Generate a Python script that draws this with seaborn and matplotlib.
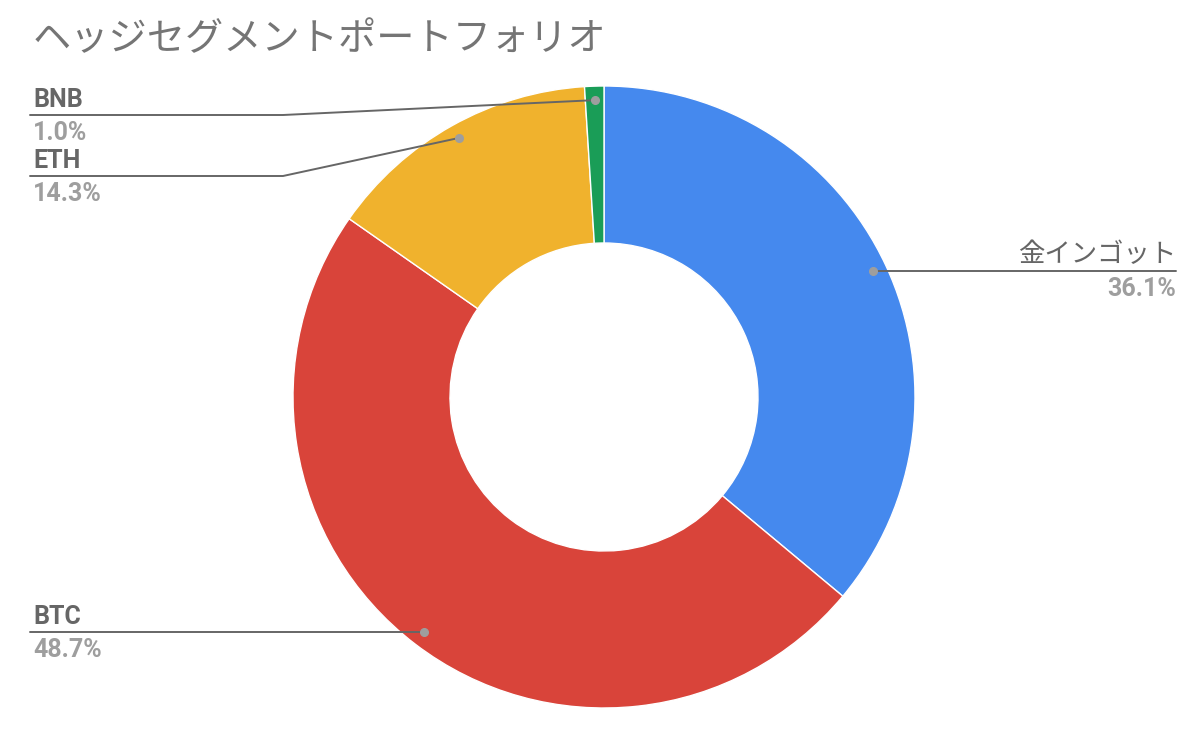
import numpy as np
import seaborn as sns
import matplotlib.pyplot as plt

labels = ["金インゴット", "BTC", "ETH", "BNB"]
values = [36.1, 48.7, 14.3, 1.0]
colors = ["#4589EE", "#D9443A", "#F0B22D", "#1A9D57"]

sns.set_theme(style="white")
plt.rcParams['font.family'] = ['Noto Sans CJK JP', 'DejaVu Sans']

W, H = 1200, 734
fig = plt.figure(figsize=(12, 7.34), dpi=100)
ax = fig.add_axes([0, 0, 1, 1])

cx, cy, R = 604, H - 397, 311
wedges, _ = ax.pie(values, colors=colors, startangle=90, counterclock=False,
                   center=(cx, cy), radius=R, frame=True,
                   wedgeprops=dict(width=R - 154, edgecolor='white', linewidth=1))
ax.set_xlim(0, W)
ax.set_ylim(0, H)
ax.set_aspect('equal')
ax.axis('off')

ax.text(33, H - 40, "ヘッジセグメントポートフォリオ", fontsize=27.5, color="#757575",
        va='center', ha='left')

# label layout: (line y, side, elbow x)
layout = {
    "金インゴット": (271, 'right', None),
    "BTC": (632, 'left', None),
    "ETH": (176, 'left', 283),
    "BNB": (115, 'left', 283),
}
line_col = "#666666"
dot_col = "#9e9e9e"
for w, lab, val in zip(wedges, labels, values):
    mid = np.deg2rad((w.theta1 + w.theta2) / 2)
    dx = cx + 0.955 * R * np.cos(mid)
    dy = cy + 0.955 * R * np.sin(mid)
    ly, side, elbow = layout[lab]
    ly = H - ly
    if side == 'right':
        xs = [dx, 1176]
        tx, ha = 1176, 'right'
    else:
        xs = [dx, 30] if elbow is None else [dx, elbow, 30]
        tx, ha = 33, 'left'
    if elbow is None:
        ys = [ly, ly]
        dy = ly
    else:
        ys = [dy, ly, ly]
    ax.plot(xs, ys, color=line_col, lw=1.4, zorder=3)
    ax.plot([dx], [dy], 'o', color=dot_col, ms=5.5, zorder=4)
    if lab == "金インゴット":
        ax.text(tx, ly + 3, lab, ha=ha, va='bottom', fontsize=19, color="#666666",
                family=['Noto Sans CJK JP', 'DejaVu Sans'])
    else:
        ax.text(tx, ly + 3, lab, ha=ha, va='bottom', fontsize=18, color="#666666",
                fontweight='bold', family=['Roboto', 'Noto Sans CJK JP'])
    ax.text(tx, ly - 6, f"{val:.1f}%", ha=ha, va='top', fontsize=18, color="#9e9e9e",
            fontweight='bold', family=['Roboto', 'DejaVu Sans'])

fig.savefig("out.png", dpi=100, facecolor='white')
